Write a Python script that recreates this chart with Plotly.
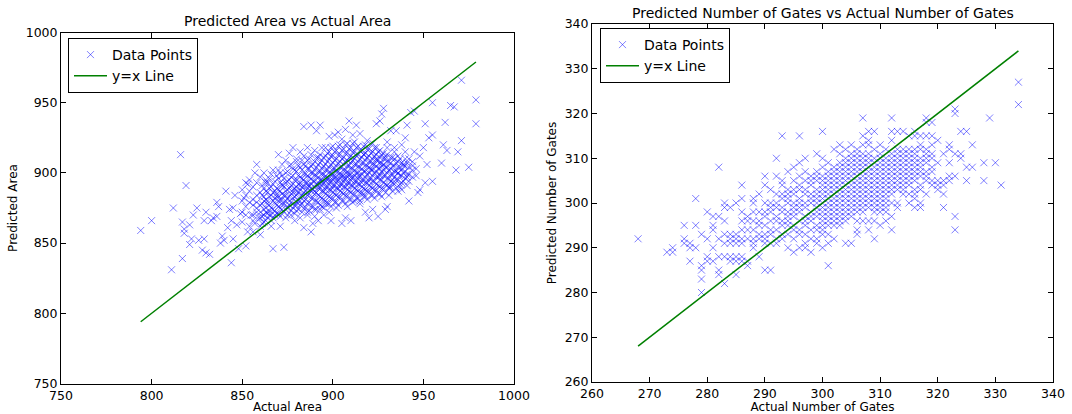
import plotly.graph_objects as go

# ---------------- Data: left panel (Area) ----------------
# Scattered points read individually: (actual, predicted)
area_outer = [
    (794, 859), (800, 866), (811, 831), (812, 875), (816, 913), (817, 865), (818, 860), (818, 857),
    (819, 891), (817, 839), (821, 849), (822, 853), (821, 863), (823, 870), (825, 875), (826, 852),
    (828, 845), (829, 853), (830, 843), (829, 866), (830, 872), (832, 842), (833, 866), (834, 868),
    (836, 869), (836, 879), (837, 876), (838, 850), (839, 855), (840, 852), (841, 887), (842, 861),
    (843, 874), (844, 866), (844, 836), (845, 853), (845, 875), (846, 884), (847, 863), (848, 846),
    (849, 871), (851, 882), (852, 848), (853, 858), (853, 892), (855, 870), (856, 877), (857, 900),
    (858, 906), (860, 856), (861, 864), (862, 880), (863, 893), (865, 873), (866, 862), (867, 902),
    (867, 846), (869, 885), (870, 880), (872, 892), (873, 847), (874, 868),
    (971, 966), (979, 952), (979, 935), (975, 904), (968, 902), (969, 915), (971, 923), (962, 936),
    (963, 916), (961, 920), (960, 907), (965, 948), (967, 947), (955, 950), (955, 927), (955, 894),
    (953, 925), (952, 906), (951, 935), (951, 893), (947, 886), (948, 888), (946, 903), (945, 944),
    (943, 943), (942, 880), (940, 925), (941, 934), (936, 887), (937, 890), (930, 876), (929, 874),
    (925, 869), (922, 874), (920, 868), (928, 946), (927, 942), (926, 937), (924, 935), (935, 930),
    (938, 920), (940, 910), (933, 895), (931, 889), (945, 915), (948, 912), (950, 918), (944, 905),
    (946, 898), (941, 897), (939, 905), (936, 900), (934, 918), (932, 930), (930, 922), (929, 912),
    (927, 905), (926, 898), (924, 910), (923, 918), (921, 903), (919, 923), (917, 913), (915, 928),
    (913, 934), (911, 927), (909, 937), (907, 931), (905, 924), (903, 929), (901, 927), (898, 926),
    (896, 918), (893, 934), (891, 930), (888, 934), (884, 933), (886, 918), (882, 915), (880, 910),
    (878, 918), (876, 914), (874, 909), (872, 906), (870, 913),
    (884, 861), (888, 858), (889, 864), (892, 866), (895, 870), (898, 872), (899, 866), (902, 875),
    (905, 864), (907, 868), (908, 876), (910, 866), (912, 880), (915, 878), (917, 885), (918, 872),
    (896, 878), (893, 874), (890, 869), (886, 872), (882, 868), (879, 866), (877, 870), (875, 875),
    (880, 877), (871, 862), (868, 870), (866, 866), (864, 868), (862, 870), (860, 862), (859, 868),
    (857, 864), (863, 875), (858, 872), (856, 858),
]
# Dense core read column by column: actual -> predicted values
area_core = {
    850: [872, 880, 888, 865], 852: [876, 884, 870, 893], 854: [862, 879, 887, 895],
    856: [870, 881, 890, 866], 858: [875, 884, 893, 879], 860: [868, 877, 886, 897, 872],
    861: [869, 878, 884, 891],
    862: [874, 883, 889, 865, 900], 863: [866, 872, 881, 887, 895],
    864: [871, 880, 886, 893, 878], 865: [870, 877, 883, 889, 896],
    866: [875, 884, 890, 870, 899], 867: [868, 874, 880, 886, 892],
    868: [873, 879, 887, 894, 882], 869: [871, 877, 883, 889, 898],
    870: [876, 883, 888, 896, 871, 902], 871: [869, 875, 881, 887, 893, 900],
    872: [878, 885, 891, 881, 874, 898], 873: [872, 878, 884, 890, 896],
    874: [874, 880, 887, 893, 900, 884], 875: [870, 876, 882, 888, 894, 901],
    876: [877, 883, 889, 895, 880, 905], 877: [873, 879, 885, 891, 897, 906],
    878: [875, 882, 886, 892, 898, 903, 888], 879: [871, 877, 883, 889, 895, 902],
    880: [879, 884, 890, 895, 901, 887, 873, 908], 881: [874, 880, 886, 892, 898, 905],
    882: [877, 883, 888, 893, 897, 904, 891, 880], 883: [872, 878, 884, 890, 896, 902, 909],
    884: [880, 886, 890, 895, 899, 906, 884, 875, 912], 885: [875, 881, 887, 893, 899, 905],
    886: [878, 884, 889, 893, 898, 903, 909, 891, 870], 887: [873, 879, 885, 891, 897, 903, 910],
    888: [882, 887, 892, 896, 900, 905, 889, 876, 913], 889: [876, 882, 888, 894, 900, 906],
    890: [880, 885, 890, 894, 898, 902, 908, 887, 874, 916], 891: [874, 880, 886, 892, 898, 904, 911],
    892: [884, 889, 893, 897, 901, 906, 911, 891, 879], 893: [877, 883, 889, 895, 901, 907, 913],
    894: [882, 887, 891, 895, 899, 903, 909, 893, 876, 918], 895: [875, 881, 887, 893, 899, 905, 911],
    896: [885, 890, 894, 898, 902, 906, 912, 888, 880, 896], 897: [878, 884, 890, 896, 902, 908, 914],
    898: [883, 888, 892, 896, 900, 904, 910, 915, 894, 878], 899: [876, 882, 888, 894, 900, 906, 912, 918],
    900: [886, 891, 895, 899, 903, 907, 912, 889, 882, 919, 897], 901: [879, 885, 891, 897, 903, 909, 915],
    902: [884, 889, 893, 897, 901, 905, 910, 916, 895, 879], 903: [877, 883, 889, 895, 901, 907, 913, 919],
    904: [887, 892, 896, 900, 904, 908, 913, 890, 883, 920, 898], 905: [880, 886, 892, 898, 904, 910, 916],
    906: [885, 890, 894, 898, 902, 906, 911, 917, 896, 880], 907: [878, 884, 890, 896, 902, 908, 914, 920],
    908: [888, 893, 897, 901, 905, 909, 914, 891, 884, 921, 899], 909: [881, 887, 893, 899, 905, 911, 917],
    910: [886, 891, 895, 899, 903, 907, 912, 918, 897, 881], 911: [879, 885, 891, 897, 903, 909, 915, 921],
    912: [889, 894, 898, 902, 906, 910, 915, 892, 885, 922], 913: [882, 888, 894, 900, 906, 912, 918],
    914: [887, 892, 896, 900, 904, 908, 913, 919, 898, 882], 915: [880, 886, 892, 898, 904, 910, 916],
    916: [890, 895, 899, 903, 907, 911, 916, 893, 886], 917: [883, 889, 895, 901, 907, 913, 919],
    918: [888, 893, 897, 901, 905, 909, 914, 920, 883], 919: [881, 887, 893, 899, 905, 911, 917],
    920: [891, 896, 900, 904, 908, 912, 917, 894, 887], 921: [884, 890, 896, 902, 908, 914],
    922: [889, 894, 898, 902, 906, 910, 915, 921, 884], 923: [882, 888, 894, 900, 906, 912],
    924: [892, 897, 901, 905, 909, 913, 888, 918], 925: [885, 891, 897, 903, 909, 915],
    926: [890, 895, 899, 903, 907, 911, 916, 885], 927: [883, 889, 895, 901, 907, 913],
    928: [893, 898, 902, 906, 910, 914, 889], 929: [886, 892, 898, 904, 910],
    930: [891, 896, 900, 904, 908, 913, 918], 931: [884, 890, 896, 902, 908],
    932: [894, 899, 903, 907, 911, 890], 933: [887, 893, 899, 905, 911],
    934: [892, 897, 901, 905, 910, 915], 935: [889, 895, 901, 907],
    936: [895, 900, 904, 908, 912], 937: [892, 898, 904, 910],
    938: [893, 898, 902, 907, 888], 939: [894, 900, 906],
    940: [896, 901, 905, 915], 941: [891, 899, 907],
    942: [894, 899, 904, 910], 944: [897, 902, 908],
}

actual_area = [p[0] for p in area_outer] + [a for a, ys in area_core.items() for _ in ys]
predicted_area = [p[1] for p in area_outer] + [y for ys in area_core.values() for y in ys]

# ---------------- Data: right panel (Gates) ----------------
# actual number of gates -> predicted values seen in that column
gates_cols = {
    268: [292], 273: [289], 274: [289, 290], 276: [295, 292, 291], 277: [287, 290, 291],
    278: [301, 295, 290], 279: [286, 285, 283, 280, 293], 280: [298, 292, 288, 287],
    281: [297, 295, 294, 290, 287], 282: [308, 297, 292, 285, 284, 288],
    283: [300, 299, 296, 293, 291, 288, 282], 284: [299, 293, 292, 291, 288, 287],
    285: [300, 293, 292, 291, 288, 287, 284], 286: [304, 301, 298, 296, 294, 292, 291, 288, 287],
    287: [297, 296, 294, 292, 287, 286], 288: [301, 300, 298, 296, 294, 292, 291, 290],
    289: [302, 298, 296, 295, 293, 292, 288],
    290: [306, 304, 300, 298, 297, 295, 293, 292, 291, 285],
    291: [303, 300, 299, 298, 296, 294, 293, 291, 285],
    292: [310, 306, 302, 300, 299, 297, 296, 294, 292, 291],
    293: [315, 305, 304, 302, 301, 299, 298, 296, 295, 293, 292],
    294: [307, 303, 302, 301, 300, 298, 297, 296, 295, 293, 290],
    295: [308, 305, 303, 302, 300, 299, 298, 297, 295, 294, 292, 289],
    296: [315, 309, 306, 304, 303, 301, 300, 299, 298, 296, 294, 293, 290],
    297: [310, 307, 305, 303, 302, 300, 299, 297, 296, 295, 293, 291, 290],
    298: [306, 305, 304, 302, 301, 300, 298, 297, 296, 294, 292, 289],
    299: [311, 307, 306, 305, 303, 302, 301, 300, 299, 298, 297, 295, 294, 292, 291],
    300: [316, 310, 308, 306, 305, 304, 303, 302, 301, 300, 299, 298, 297, 296, 295, 294, 293, 290],
    301: [309, 307, 306, 305, 304, 303, 302, 301, 300, 299, 298, 297, 296, 295, 293, 291, 286],
    302: [312, 308, 307, 306, 305, 304, 303, 302, 301, 300, 299, 298, 297, 296, 295, 292],
    303: [313, 311, 309, 308, 307, 306, 305, 304, 303, 302, 301, 300, 299, 298, 297, 296, 295],
    304: [312, 310, 309, 308, 307, 306, 305, 304, 303, 302, 301, 300, 299, 298, 297, 296, 291],
    305: [313, 311, 310, 309, 308, 307, 306, 305, 304, 303, 302, 301, 300, 299, 298, 297, 291],
    306: [312, 311, 310, 309, 308, 307, 306, 305, 304, 303, 302, 301, 300, 299, 298, 296, 294, 293],
    307: [319, 315, 313, 311, 310, 309, 308, 307, 306, 305, 304, 303, 302, 301, 300, 299, 298, 296],
    308: [316, 314, 313, 311, 310, 309, 308, 307, 306, 305, 304, 303, 302, 301, 300, 299, 296, 294],
    309: [316, 312, 310, 309, 308, 307, 306, 305, 304, 303, 302, 301, 300, 299, 298, 296, 292],
    310: [313, 311, 310, 309, 308, 307, 306, 305, 304, 303, 302, 301, 300, 299, 298, 295],
    311: [312, 310, 309, 308, 307, 306, 305, 304, 303, 302, 301, 300, 299, 298, 296],
    312: [319, 316, 314, 311, 310, 309, 308, 307, 306, 305, 304, 303, 302, 300, 297, 294],
    313: [316, 312, 311, 310, 309, 308, 307, 306, 305, 304, 303, 300, 299],
    314: [316, 312, 311, 310, 309, 308, 307, 306, 305, 304, 303, 302],
    315: [315, 312, 311, 310, 309, 308, 307, 306, 305, 304, 302, 300],
    316: [316, 315, 312, 311, 310, 309, 308, 307, 306, 305, 303, 302, 301, 299],
    317: [315, 313, 312, 310, 309, 308, 307, 306, 304, 303, 300, 299],
    318: [319, 318, 315, 312, 311, 310, 309, 307, 306, 305, 302],
    319: [318, 315, 313, 311, 310, 308, 307, 305, 304],
    320: [314, 309, 305, 304, 303], 321: [311, 305, 304, 302, 299],
    322: [313, 312, 309, 306, 305], 323: [321, 320, 311, 306, 297, 294],
    324: [316, 311, 310], 325: [316, 308, 305], 326: [313, 308], 328: [309, 305],
    329: [319], 330: [309], 331: [304], 334: [327, 322],
}
actual_gates = [a for a, ys in gates_cols.items() for _ in ys]
predicted_gates = [y for ys in gates_cols.values() for y in ys]

# ---------------- Figure ----------------
W, H = 1072, 414
OFF = 0  # page body margin is removed by the post script below
L1, R1, T1, B1 = 61, 514, 32.5, 383.5
L2, R2, T2, B2 = 592, 1053, 24, 382

FONT = "DejaVu Sans"
marker = dict(symbol="x-thin", size=7, color="rgba(0,0,255,0.5)",
              line=dict(width=1, color="rgba(0,0,255,0.5)"))
green = "#008000"

fig = go.Figure()
fig.add_trace(go.Scatter(x=actual_area, y=predicted_area, mode="markers", marker=marker,
                         name="Data Points", xaxis="x", yaxis="y", legend="legend"))
amin, amax = min(actual_area), max(actual_area)
fig.add_trace(go.Scatter(x=[amin, amax], y=[amin, amax], mode="lines",
                         line=dict(color=green, width=1.5), name="y=x Line",
                         xaxis="x", yaxis="y", legend="legend"))
fig.add_trace(go.Scatter(x=actual_gates, y=predicted_gates, mode="markers", marker=marker,
                         name="Data Points", xaxis="x2", yaxis="y2", legend="legend2"))
gmin, gmax = min(actual_gates), max(actual_gates)
fig.add_trace(go.Scatter(x=[gmin, gmax], y=[gmin, gmax], mode="lines",
                         line=dict(color=green, width=1.5), name="y=x Line",
                         xaxis="x2", yaxis="y2", legend="legend2"))

axis_common = dict(showgrid=False, zeroline=False, showline=True, linecolor="black",
                   linewidth=1, mirror="ticks", ticks="inside", ticklen=5, tickwidth=1,
                   tickcolor="black", tickfont=dict(family=FONT, size=12.5, color="black"),
                   automargin=False)


def px(x):
    return (x - OFF) / W


def py(y):
    return 1 - (y - OFF) / H


def dom_x(l, r):
    return [px(l), px(r)]


def dom_y(t, b):
    return [py(b), py(t)]


title_font = dict(family=FONT, size=12, color="black")
legend_style = dict(xanchor="left", yanchor="top", bordercolor="black", borderwidth=1,
                    bgcolor="white", font=dict(family=FONT, size=14, color="black"),
                    tracegroupgap=0, itemwidth=33)

fig.update_layout(
    width=W, height=H, margin=dict(l=0, r=0, t=0, b=0),
    paper_bgcolor="white", plot_bgcolor="white",
    font=dict(family=FONT, color="black"),
    xaxis=dict(domain=dom_x(L1, R1), range=[750, 1000], tickvals=[750, 800, 850, 900, 950, 1000],
               title=dict(text="Actual Area", font=title_font, standoff=3),
               anchor="y", **axis_common),
    yaxis=dict(domain=dom_y(T1, B1), range=[750, 1000], tickvals=[750, 800, 850, 900, 950, 1000],
               title=dict(text="Predicted Area", font=title_font, standoff=5),
               anchor="x", **axis_common),
    xaxis2=dict(domain=dom_x(L2, R2), range=[260, 340], tickvals=list(range(260, 341, 10)),
                title=dict(text="Actual Number of Gates", font=title_font, standoff=3),
                anchor="y2", **axis_common),
    yaxis2=dict(domain=dom_y(T2, B2), range=[260, 340], tickvals=list(range(260, 341, 10)),
                title=dict(text="Predicted Number of Gates", font=title_font, standoff=5),
                anchor="x2", **axis_common),
    legend=dict(x=px(68), y=py(38), **legend_style),
    legend2=dict(x=px(600), y=py(28), **legend_style),
    showlegend=True,
    annotations=[
        dict(text="Predicted Area vs Actual Area", x=px((L1 + R1) / 2), y=py(T1 - 1),
             xref="paper", yref="paper", xanchor="center", yanchor="bottom", showarrow=False,
             font=dict(family=FONT, size=14, color="black")),
        dict(text="Predicted Number of Gates vs Actual Number of Gates", x=px((L2 + R2) / 2),
             y=py(T2 - 1), xref="paper", yref="paper", xanchor="center", yanchor="bottom",
             showarrow=False, font=dict(family=FONT, size=14, color="black")),
    ],
)

fig.write_html("out.html", config={"displayModeBar": False},
               post_script="document.body.style.margin='0';document.body.style.padding='0';")
